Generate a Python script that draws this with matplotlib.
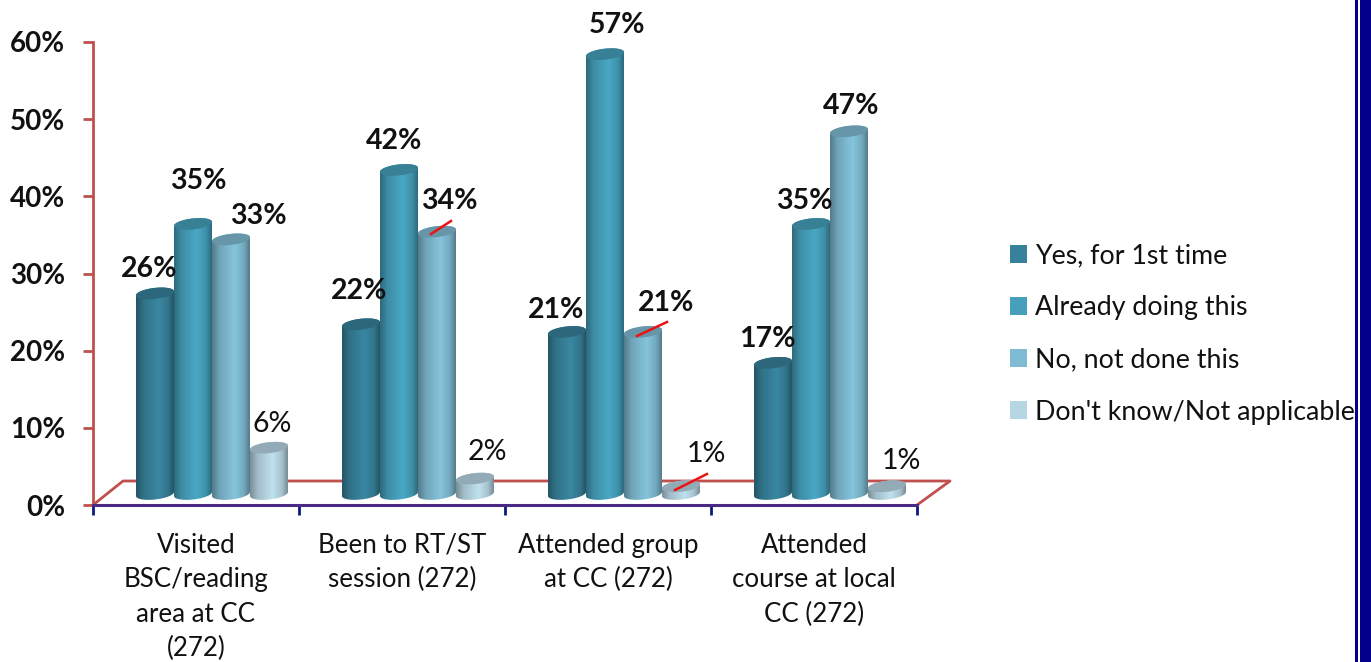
import matplotlib
matplotlib.use("Agg")
import matplotlib.pyplot as plt
import numpy as np
from matplotlib.patches import Patch, PathPatch, Polygon, Rectangle
from matplotlib.path import Path

plt.rcParams["font.family"] = ["Lato", "DejaVu Sans"]

categories = [
    "Visited\nBSC/reading\narea at CC\n(272)",
    "Been to RT/ST\nsession (272)",
    "Attended group\nat CC (272)",
    "Attended\ncourse at local\nCC (272)",
]
series_names = ["Yes, for 1st time", "Already doing this", "No, not done this", "Don't know/Not applicable"]
yes_first = [26, 22, 21, 17]
already = [35, 42, 57, 35]
not_done = [33, 34, 21, 47]
dont_know = [6, 2, 1, 1]
series_values = [yes_first, already, not_done, dont_know]
series_colors = ["#37819A", "#46A0BC", "#7FBBD2", "#B7D6E3"]
y_ticks = [0, 10, 20, 30, 40, 50, 60]

W, H = 1371, 662
AX_L, AX_R, AX_TOP, AX_BOT = 93, 917, 42, 505
PX_X = len(categories) / (AX_R - AX_L)
PX_Y = 60 / (AX_BOT - AX_TOP)

# label centres in image pixels, per series then category
label_pos = [
    [(149, 267), (359, 289), (556, 308), (767, 337)],
    [(198, 179), (394, 139), (617, 23), (804, 199)],
    [(258, 214), (449, 199), (666, 301), (851, 104)],
    [(272, 422), (487, 450), (706, 452), (901, 459)],
]
leaders = [((431, 234), (451, 221)), ((637, 336), (667, 322)), ((675, 490), (707, 474))]


def px(x, y):
    return (x / W, 1 - y / H)


def shade(color, t):
    rgb = np.array(matplotlib.colors.to_rgb(color))
    f = np.interp(t, [0, 0.2, 0.6, 0.85, 1], [0.66, 0.88, 1.05, 0.9, 0.66])
    return np.clip(rgb[None, :] * f[:, None], 0, 1)


def cylinder(ax, x0, value, color, zorder):
    width = 38 * PX_X
    base = 11 * PX_Y
    ry = 5.5 * PX_Y
    tilt = 2 * PX_Y
    th = np.linspace(0, np.pi, 40)
    cx = x0 + width / 2
    xs = cx + width / 2 * np.cos(th)
    top = base + value
    # body: top arc (back) and bottom arc (front)
    y_top = top + ry * np.sin(th) + tilt * np.cos(th)
    y_bot = base - ry * np.sin(th) + tilt * np.cos(th)
    verts = np.r_[np.c_[xs, y_top], np.c_[xs[::-1], y_bot[::-1]]]
    t = np.linspace(0, 1, 80)
    img = ax.imshow(shade(color, t)[None, :, :], extent=(x0, x0 + width, 0, top + 2),
                    aspect="auto", zorder=zorder, interpolation="bilinear", origin="lower")
    clip = PathPatch(Path(np.r_[verts, verts[:1]]), transform=ax.transData, fc="none", ec="none")
    ax.add_patch(clip)
    img.set_clip_path(clip)
    # top face
    th2 = np.linspace(0, 2 * np.pi, 80)
    face = np.c_[cx + width / 2 * np.cos(th2),
                 top + ry * np.sin(th2) + tilt * np.cos(th2)]
    ax.add_patch(Polygon(face, closed=True, fc=np.array(matplotlib.colors.to_rgb(color)) * 0.8,
                         ec="none", zorder=zorder + 0.1))


fig = plt.figure(figsize=(W / 100, H / 100), dpi=100, facecolor="white")
ax = fig.add_axes([AX_L / W, 1 - AX_BOT / H, (AX_R - AX_L) / W, (AX_BOT - AX_TOP) / H])
ax.patch.set_alpha(0)

# floor of the 3D box
floor_x = [0, 30 * PX_X, len(categories) + 33 * PX_X, len(categories)]
floor_y = [0, 24 * PX_Y, 24 * PX_Y, 0]
ax.plot(floor_x, floor_y, color="#C0504D", lw=2, zorder=1, clip_on=False)

for i, values in enumerate(series_values):
    for j, v in enumerate(values):
        x0 = j + (43 + i * 38) * PX_X
        cylinder(ax, x0, v, series_colors[i], 2 + i + j * 5)

ax.set_xlim(0, len(categories))
ax.set_ylim(0, 60)
for s in ["top", "right"]:
    ax.spines[s].set_visible(False)
ax.spines["left"].set_color("#C0504D")
ax.spines["left"].set_linewidth(2)
ax.spines["bottom"].set_color("#4B2A86")
ax.spines["bottom"].set_linewidth(2.2)
ax.spines["bottom"].set_zorder(60)

ax.set_yticks(y_ticks)
ax.set_yticklabels([f"{v}%" for v in y_ticks], fontsize=20, fontweight="bold", color="#111111",
                   va="center_baseline")
ax.tick_params(axis="y", length=7.5, width=2, color="#C0504D", pad=12.5)
ax.set_xticks(range(len(categories) + 1))
ax.set_xticklabels([])
ax.tick_params(axis="x", which="major", length=7.5, width=2, color="#0A1A80", direction="out")
ax.set_xticks(np.arange(len(categories)) + 0.5, minor=True)
ax.set_xticklabels(categories, minor=True, fontsize=18.6, color="#111111", linespacing=1.47)
ax.tick_params(axis="x", which="minor", length=0, pad=20)

for i, positions in enumerate(label_pos):
    for j, (lx, ly) in enumerate(positions):
        fig.text(*px(lx, ly + 2), f"{series_values[i][j]}%", ha="center", va="center", fontsize=20.5,
                 fontweight="bold" if i < 3 else "normal", color="#111111", zorder=100)

for a, b in leaders:
    fig.add_artist(plt.Line2D(*zip(px(*a), px(*b)), color="#EE1111", lw=1.8, zorder=90))

handles = [Patch(fc=c, ec="none") for c in series_colors]
fig.legend(handles, series_names, loc="center left", bbox_to_anchor=px(999, 334), frameon=False,
           fontsize=19.25, handlelength=0.64, handleheight=0.64, handletextpad=0.3,
           labelspacing=1.01, labelcolor="#111111", borderpad=0, borderaxespad=0.4)

# slide border on the right
fig.add_artist(Rectangle(px(1355, H), 3 / W, 1, transform=fig.transFigure, fc="#00008B", ec="none"))
fig.add_artist(Rectangle(px(1360, H), 11 / W, 1, transform=fig.transFigure, fc="#00008B", ec="none"))

fig.savefig("out.png", dpi=100)
